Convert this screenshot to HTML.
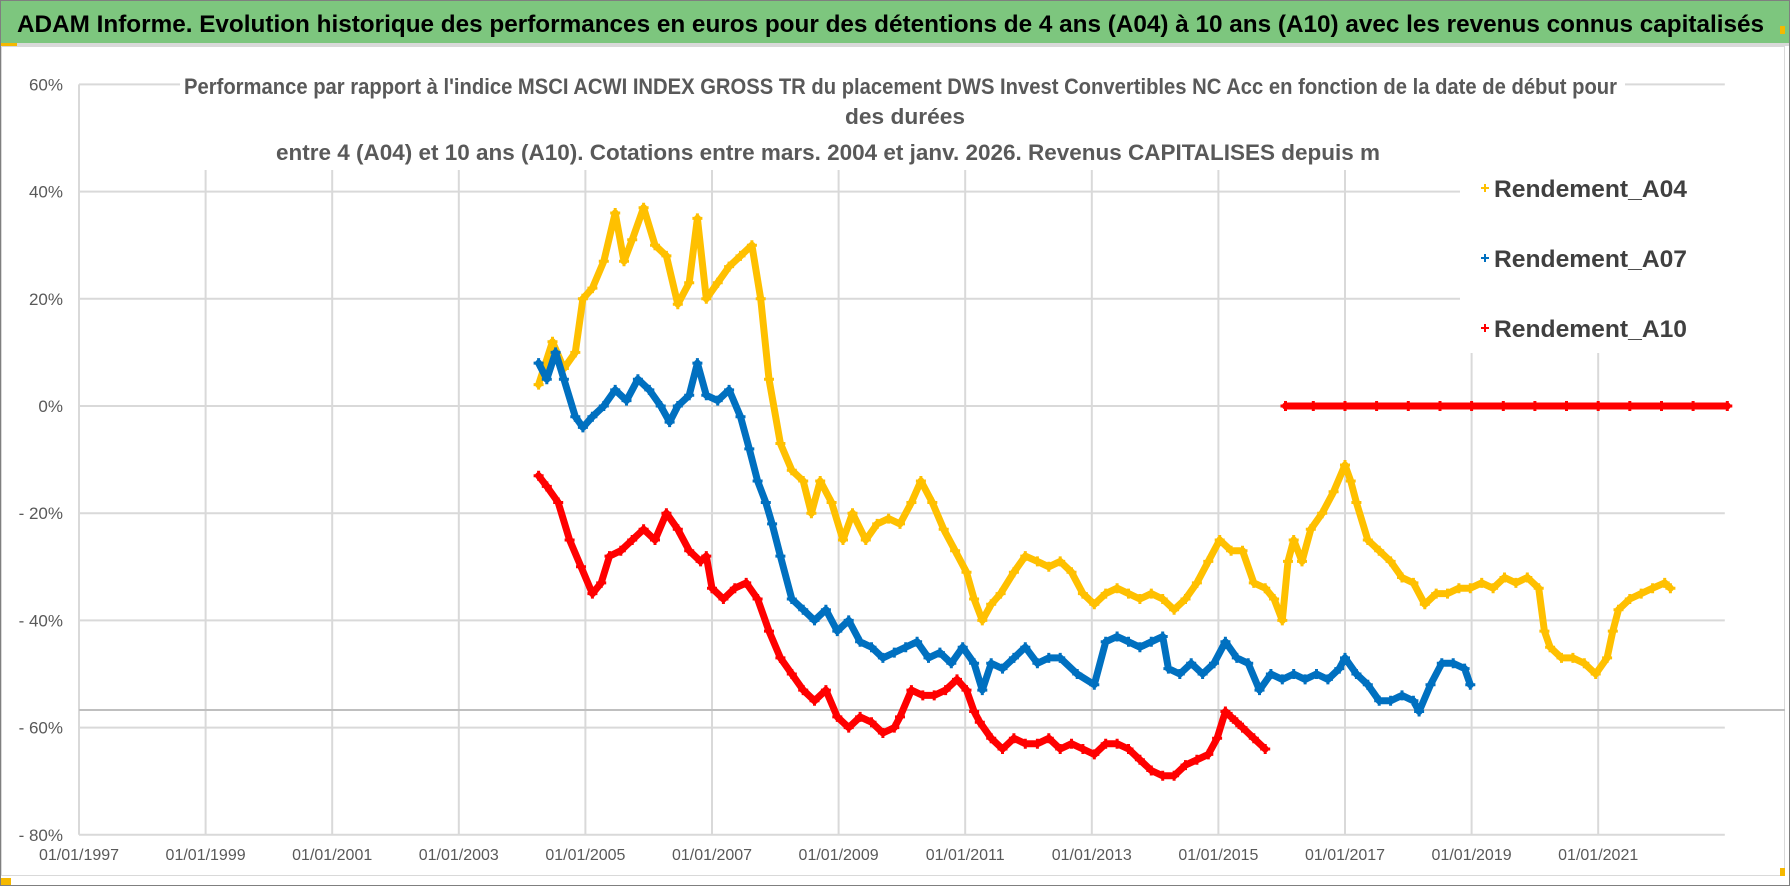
<!DOCTYPE html>
<html><head><meta charset="utf-8"><style>
html,body{margin:0;padding:0;background:#fff;}
svg{display:block;font-family:"Liberation Sans",sans-serif;}
</style></head><body>
<svg id="chart" width="1790" height="886" viewBox="0 0 1790 886">
<rect x="0" y="0" width="1790" height="886" fill="#ffffff"/>
<rect x="0.5" y="0.5" width="1789" height="885" fill="none" stroke="#7f7f7f"/>
<rect x="1" y="1" width="1788" height="42" fill="#7dc67e"/>
<text x="17" y="32" font-size="24" font-weight="bold" fill="#000" textLength="1747" lengthAdjust="spacingAndGlyphs">ADAM Informe. Evolution historique des performances en euros pour des détentions de 4 ans (A04) à 10 ans (A10) avec les revenus connus capitalisés</text>
<rect x="1" y="43" width="1788" height="3" fill="#d9d9d9"/>
<rect x="1" y="43" width="16" height="3" fill="#f5b800"/>
<rect x="1.5" y="46.5" width="1783" height="829" fill="none" stroke="#d9d9d9"/>
<rect x="1780" y="26" width="5" height="8" fill="#f5b800"/>
<rect x="1780" y="868" width="5" height="8" fill="#f5b800"/>
<rect x="1" y="878" width="10" height="7" fill="#f5b800"/>
<g id="grid"></g>
<line x1="79" y1="710" x2="1785" y2="710" stroke="#bfbfbf" stroke-width="2"/>
<g id="yticks"></g>
<g id="xticks"></g>
<g id="series"></g>
<rect x="180" y="70" width="1445" height="100" fill="#fff"/>
<g fill="#595959" font-weight="bold" font-size="22">
<text x="184" y="94" textLength="1433" lengthAdjust="spacingAndGlyphs">Performance par rapport à l'indice MSCI ACWI INDEX GROSS TR  du placement DWS Invest Convertibles NC Acc en fonction de la date de début pour</text>
<text x="845" y="124" textLength="120" lengthAdjust="spacingAndGlyphs">des durées</text>
<text x="276" y="160" textLength="1104" lengthAdjust="spacingAndGlyphs">entre 4 (A04) et 10 ans (A10). Cotations entre mars. 2004 et janv. 2026. Revenus CAPITALISES depuis m</text>
</g>
<rect x="1460" y="168" width="275" height="185" fill="#fff"/>
<g font-size="24" font-weight="bold" fill="#404040">
<g><path d="M1481 188h8M1485 184v8" stroke="#ffc000" stroke-width="2"/><text x="1494" y="197" textLength="193" lengthAdjust="spacingAndGlyphs">Rendement_A04</text></g>
<g><path d="M1481 258h8M1485 254v8" stroke="#0070c0" stroke-width="2"/><text x="1494" y="267" textLength="193" lengthAdjust="spacingAndGlyphs">Rendement_A07</text></g>
<g><path d="M1481 328h8M1485 324v8" stroke="#ff0000" stroke-width="2"/><text x="1494" y="337" textLength="193" lengthAdjust="spacingAndGlyphs">Rendement_A10</text></g>
</g>
</svg>
<script>
const yTicks = [60, 40, 20, 0, -20, -40, -60, -80];
const yTickLabels = ["60%", "40%", "20%", "0%", "- 20%", "- 40%", "- 60%", "- 80%"];
const xTicks = [1997, 1999, 2001, 2003, 2005, 2007, 2009, 2011, 2013, 2015, 2017, 2019, 2021];
const xTickLabels = ["01/01/1997","01/01/1999","01/01/2001","01/01/2003","01/01/2005","01/01/2007","01/01/2009","01/01/2011","01/01/2013","01/01/2015","01/01/2017","01/01/2019","01/01/2021"];

const datesA04 = [2004.26,2004.48,2004.66,2004.84,2004.96,2005.11,2005.29,2005.47,2005.61,2005.74,2005.92,2006.10,2006.28,2006.46,2006.64,2006.77,2006.91,2007.09,2007.27,2007.45,2007.63,2007.77,2007.90,2008.08,2008.26,2008.44,2008.57,2008.71,2008.89,2009.07,2009.22,2009.43,2009.61,2009.79,2009.97,2010.15,2010.30,2010.48,2010.66,2010.84,2011.02,2011.14,2011.27,2011.41,2011.56,2011.77,2011.95,2012.14,2012.32,2012.50,2012.68,2012.86,2013.04,2013.22,2013.40,2013.58,2013.76,2013.94,2014.12,2014.30,2014.48,2014.66,2014.84,2015.02,2015.20,2015.38,2015.56,2015.74,2015.88,2016.01,2016.10,2016.19,2016.32,2016.46,2016.64,2016.82,2017.00,2017.09,2017.18,2017.36,2017.54,2017.72,2017.90,2018.08,2018.26,2018.44,2018.62,2018.80,2018.98,2019.16,2019.34,2019.52,2019.70,2019.88,2020.06,2020.15,2020.24,2020.42,2020.60,2020.78,2020.96,2021.14,2021.23,2021.32,2021.50,2021.68,2021.86,2022.05,2022.14];
const valuesA04 = [4,12,7,10,20,22,27,36,27,31,37,30,28,19,23,35,20,23,26,28,30,20,5,-7,-12,-14,-20,-14,-18,-25,-20,-25,-22,-21,-22,-18,-14,-18,-23,-27,-31,-36,-40,-37,-35,-31,-28,-29,-30,-29,-31,-35,-37,-35,-34,-35,-36,-35,-36,-38,-36,-33,-29,-25,-27,-27,-33,-34,-36,-40,-29,-25,-29,-23,-20,-16,-11,-14,-18,-25,-27,-29,-32,-33,-37,-35,-35,-34,-34,-33,-34,-32,-33,-32,-34,-42,-45,-47,-47,-48,-50,-47,-42,-38,-36,-35,-34,-33,-34];

const datesA07 = [2004.26,2004.39,2004.53,2004.66,2004.84,2004.96,2005.11,2005.29,2005.47,2005.65,2005.83,2006.01,2006.19,2006.33,2006.46,2006.64,2006.77,2006.91,2007.09,2007.27,2007.45,2007.59,2007.72,2007.85,2007.95,2008.08,2008.26,2008.44,2008.62,2008.80,2008.98,2009.16,2009.34,2009.52,2009.70,2009.88,2010.06,2010.24,2010.42,2010.60,2010.78,2010.96,2011.14,2011.27,2011.41,2011.59,2011.77,2011.95,2012.14,2012.32,2012.50,2012.77,2013.04,2013.22,2013.40,2013.58,2013.76,2013.94,2014.12,2014.21,2014.39,2014.57,2014.75,2014.93,2015.11,2015.29,2015.47,2015.65,2015.83,2016.01,2016.19,2016.37,2016.55,2016.73,2016.91,2017.00,2017.18,2017.36,2017.54,2017.72,2017.90,2018.08,2018.17,2018.35,2018.53,2018.71,2018.89,2018.98];
const valuesA07 = [8,5,10,5,-2,-4,-2,0,3,1,5,3,0,-3,0,2,8,2,1,3,-2,-8,-14,-18,-22,-28,-36,-38,-40,-38,-42,-40,-44,-45,-47,-46,-45,-44,-47,-46,-48,-45,-48,-53,-48,-49,-47,-45,-48,-47,-47,-50,-52,-44,-43,-44,-45,-44,-43,-49,-50,-48,-50,-48,-44,-47,-48,-53,-50,-51,-50,-51,-50,-51,-49,-47,-50,-52,-55,-55,-54,-55,-57,-52,-48,-48,-49,-52];

const datesA10 = [2004.26,2004.39,2004.57,2004.75,2004.93,2005.11,2005.25,2005.38,2005.56,2005.74,2005.92,2006.10,2006.28,2006.46,2006.64,2006.82,2006.91,2007.00,2007.18,2007.36,2007.54,2007.72,2007.90,2008.08,2008.26,2008.44,2008.62,2008.80,2008.98,2009.16,2009.34,2009.52,2009.70,2009.88,2009.97,2010.15,2010.33,2010.51,2010.69,2010.87,2011.02,2011.14,2011.23,2011.41,2011.59,2011.77,2011.95,2012.14,2012.32,2012.50,2012.68,2012.86,2013.04,2013.22,2013.40,2013.58,2013.76,2013.94,2014.12,2014.30,2014.48,2014.66,2014.84,2014.98,2015.11,2015.20,2015.29,2015.38,2015.56,2015.74];
const valuesA10 = [-13,-15,-18,-25,-30,-35,-33,-28,-27,-25,-23,-25,-20,-23,-27,-29,-28,-34,-36,-34,-33,-36,-42,-47,-50,-53,-55,-53,-58,-60,-58,-59,-61,-60,-58,-53,-54,-54,-53,-51,-53,-57,-59,-62,-64,-62,-63,-63,-62,-64,-63,-64,-65,-63,-63,-64,-66,-68,-69,-69,-67,-66,-65,-62,-57,-58,-59,-60,-62,-64];

const datesA10zero = [2016.06,2016.5,2017.0,2017.5,2018.0,2018.5,2019.0,2019.5,2020.0,2020.5,2021.0,2021.5,2022.0,2022.5,2023.04];
const valuesA10zero = [0,0,0,0,0,0,0,0,0,0,0,0,0,0,0];

const NS = "http://www.w3.org/2000/svg";
const X0 = 79, XPY = 63.3, YZ = 406, YPP = 5.36;
function xScale(yr){ return X0 + (yr - 1997) * XPY; }
function yScale(v){ return YZ - v * YPP; }
function mk(tag, attrs, parent){ const e=document.createElementNS(NS,tag); for(const k in attrs) e.setAttribute(k, attrs[k]); parent.appendChild(e); return e; }

const grid = document.getElementById('grid');
const yt = document.getElementById('yticks');
const xt = document.getElementById('xticks');
const R = xScale(2023);
yTicks.forEach((v,i)=>{
  const l = mk('line',{x1:X0,x2:R,y1:yScale(v),y2:yScale(v),stroke:'#d9d9d9','stroke-width':2},grid);
  
  
  const t = mk('text',{x:63,y:yScale(v)+6,'text-anchor':'end','font-size':17,fill:'#595959'},yt);
  t.textContent = yTickLabels[i];
  
  
});
xTicks.forEach((yr,i)=>{
  const l = mk('line',{x1:xScale(yr),x2:xScale(yr),y1:yScale(60),y2:yScale(-80),stroke:'#d9d9d9','stroke-width':2},grid);
  
  
  const t = mk('text',{x:xScale(yr),y:860,'text-anchor':'middle','font-size':16,fill:'#595959'},xt);
  t.textContent = xTickLabels[i];
  
  
});
const ser = document.getElementById('series');
function drawSeries(dates, vals, color, name){
  const g = mk('g',{},ser);
  
  
  let pts = dates.map((d,i)=>xScale(d).toFixed(1)+','+yScale(vals[i]).toFixed(1)).join(' ');
  mk('polyline',{points:pts,fill:'none',stroke:color,'stroke-width':7,'stroke-linejoin':'round','stroke-linecap':'round'},g);
  let d = '';
  dates.forEach((dt,i)=>{ const x=xScale(dt), y=yScale(vals[i]); d += `M${(x-5).toFixed(1)} ${y.toFixed(1)}h10M${x.toFixed(1)} ${(y-5).toFixed(1)}v10`; });
  mk('path',{d:d,stroke:color,'stroke-width':3,fill:'none'},g);
}
drawSeries(datesA04, valuesA04, '#ffc000', 'series-a04');
drawSeries(datesA07, valuesA07, '#0070c0', 'series-a07');
drawSeries(datesA10, valuesA10, '#ff0000', 'series-a10');
drawSeries(datesA10zero, valuesA10zero, '#ff0000', 'series-a10-zero');
</script>
</body></html>
